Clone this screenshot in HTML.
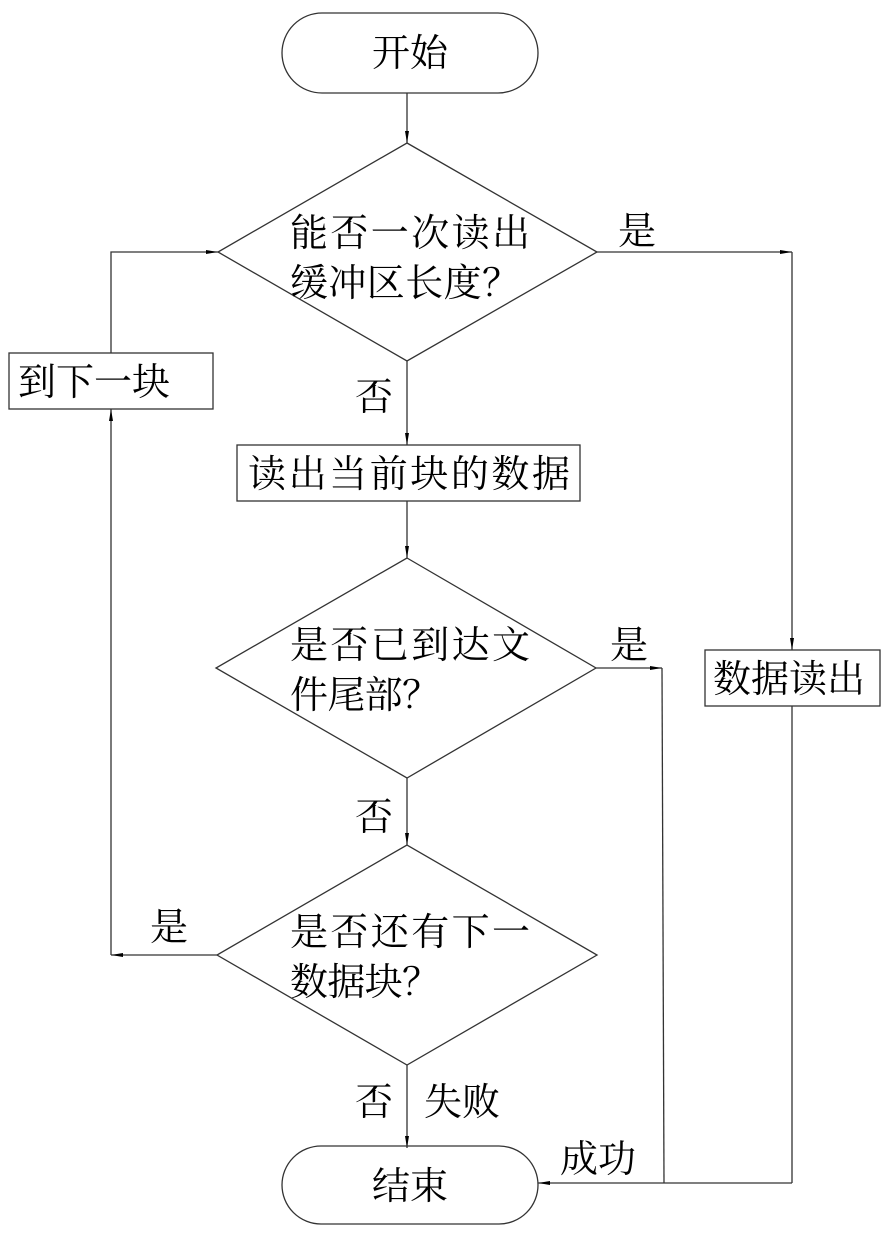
<!DOCTYPE html>
<html><head><meta charset="utf-8"><style>
html,body{margin:0;padding:0;background:#fff;}
svg{display:block;}
text{font-family:"Liberation Serif","Noto Serif CJK SC",serif;font-size:38px;fill:#000;}
</style></head><body>
<svg width="890" height="1234" viewBox="0 0 890 1234" xmlns="http://www.w3.org/2000/svg">
<defs>
<marker id="a" markerWidth="12" markerHeight="6" refX="12" refY="3" orient="auto" markerUnits="userSpaceOnUse">
<path d="M0,1 L12,3 L0,5 Z" fill="#000"/></marker>
</defs>
<g fill="none" stroke="#333" stroke-width="1.3">
<!-- start -->
<rect x="282" y="13" width="256" height="80" rx="40" ry="40"/>
<line x1="407" y1="93" x2="407" y2="143" marker-end="url(#a)"/>
<!-- diamond1 -->
<polygon points="407,143 597,252 407,361 218,252"/>
<line x1="597" y1="252" x2="792" y2="252" marker-end="url(#a)"/>
<line x1="792" y1="252" x2="792" y2="650" marker-end="url(#a)"/>
<!-- 到下一块 -->
<rect x="9" y="353" width="204" height="56"/>
<polyline points="111,353 111,252 218,252" marker-end="url(#a)"/>
<line x1="407" y1="361" x2="407" y2="445" marker-end="url(#a)"/>
<rect x="237" y="445" width="343" height="56"/>
<line x1="407" y1="501" x2="407" y2="558" marker-end="url(#a)"/>
<!-- diamond2 -->
<polygon points="407,558 596,668 407,778 216,668"/>
<line x1="596" y1="668" x2="662" y2="668" marker-end="url(#a)"/>
<line x1="662" y1="668" x2="664" y2="1183"/>
<rect x="705" y="650" width="175" height="56"/>
<line x1="792" y1="706" x2="792" y2="1183"/>
<line x1="792" y1="1183" x2="538" y2="1183" marker-end="url(#a)"/>
<line x1="407" y1="778" x2="407" y2="845" marker-end="url(#a)"/>
<!-- diamond3 -->
<polygon points="407,845 597,955 407,1065 217,955"/>
<line x1="217" y1="955" x2="111" y2="955" marker-end="url(#a)"/>
<line x1="111" y1="955" x2="111" y2="409" marker-end="url(#a)"/>
<line x1="407" y1="1065" x2="407" y2="1148" marker-end="url(#a)"/>
<!-- end -->
<rect x="282" y="1146" width="256" height="78" rx="39" ry="39"/>
</g>
<text x="410" y="66" text-anchor="middle">开始</text>
<text x="290" y="246" textLength="240">能否一次读出</text>
<text x="290" y="296" textLength="230">缓冲区长度？</text>
<text x="618" y="244">是</text>
<text x="18" y="395">到下一块</text>
<text x="355" y="410">否</text>
<text x="248" y="487" textLength="322">读出当前块的数据</text>
<text x="290" y="658" textLength="240">是否已到达文</text>
<text x="290" y="708" textLength="150">件尾部？</text>
<text x="610" y="658">是</text>
<text x="713" y="692">数据读出</text>
<text x="355" y="830">否</text>
<text x="290" y="945" textLength="240">是否还有下一</text>
<text x="290" y="995" textLength="150">数据块？</text>
<text x="150" y="940">是</text>
<text x="355" y="1115">否</text>
<text x="424" y="1115">失败</text>
<text x="410" y="1199" text-anchor="middle">结束</text>
<text x="560" y="1172">成功</text>
</svg>
</body></html>
